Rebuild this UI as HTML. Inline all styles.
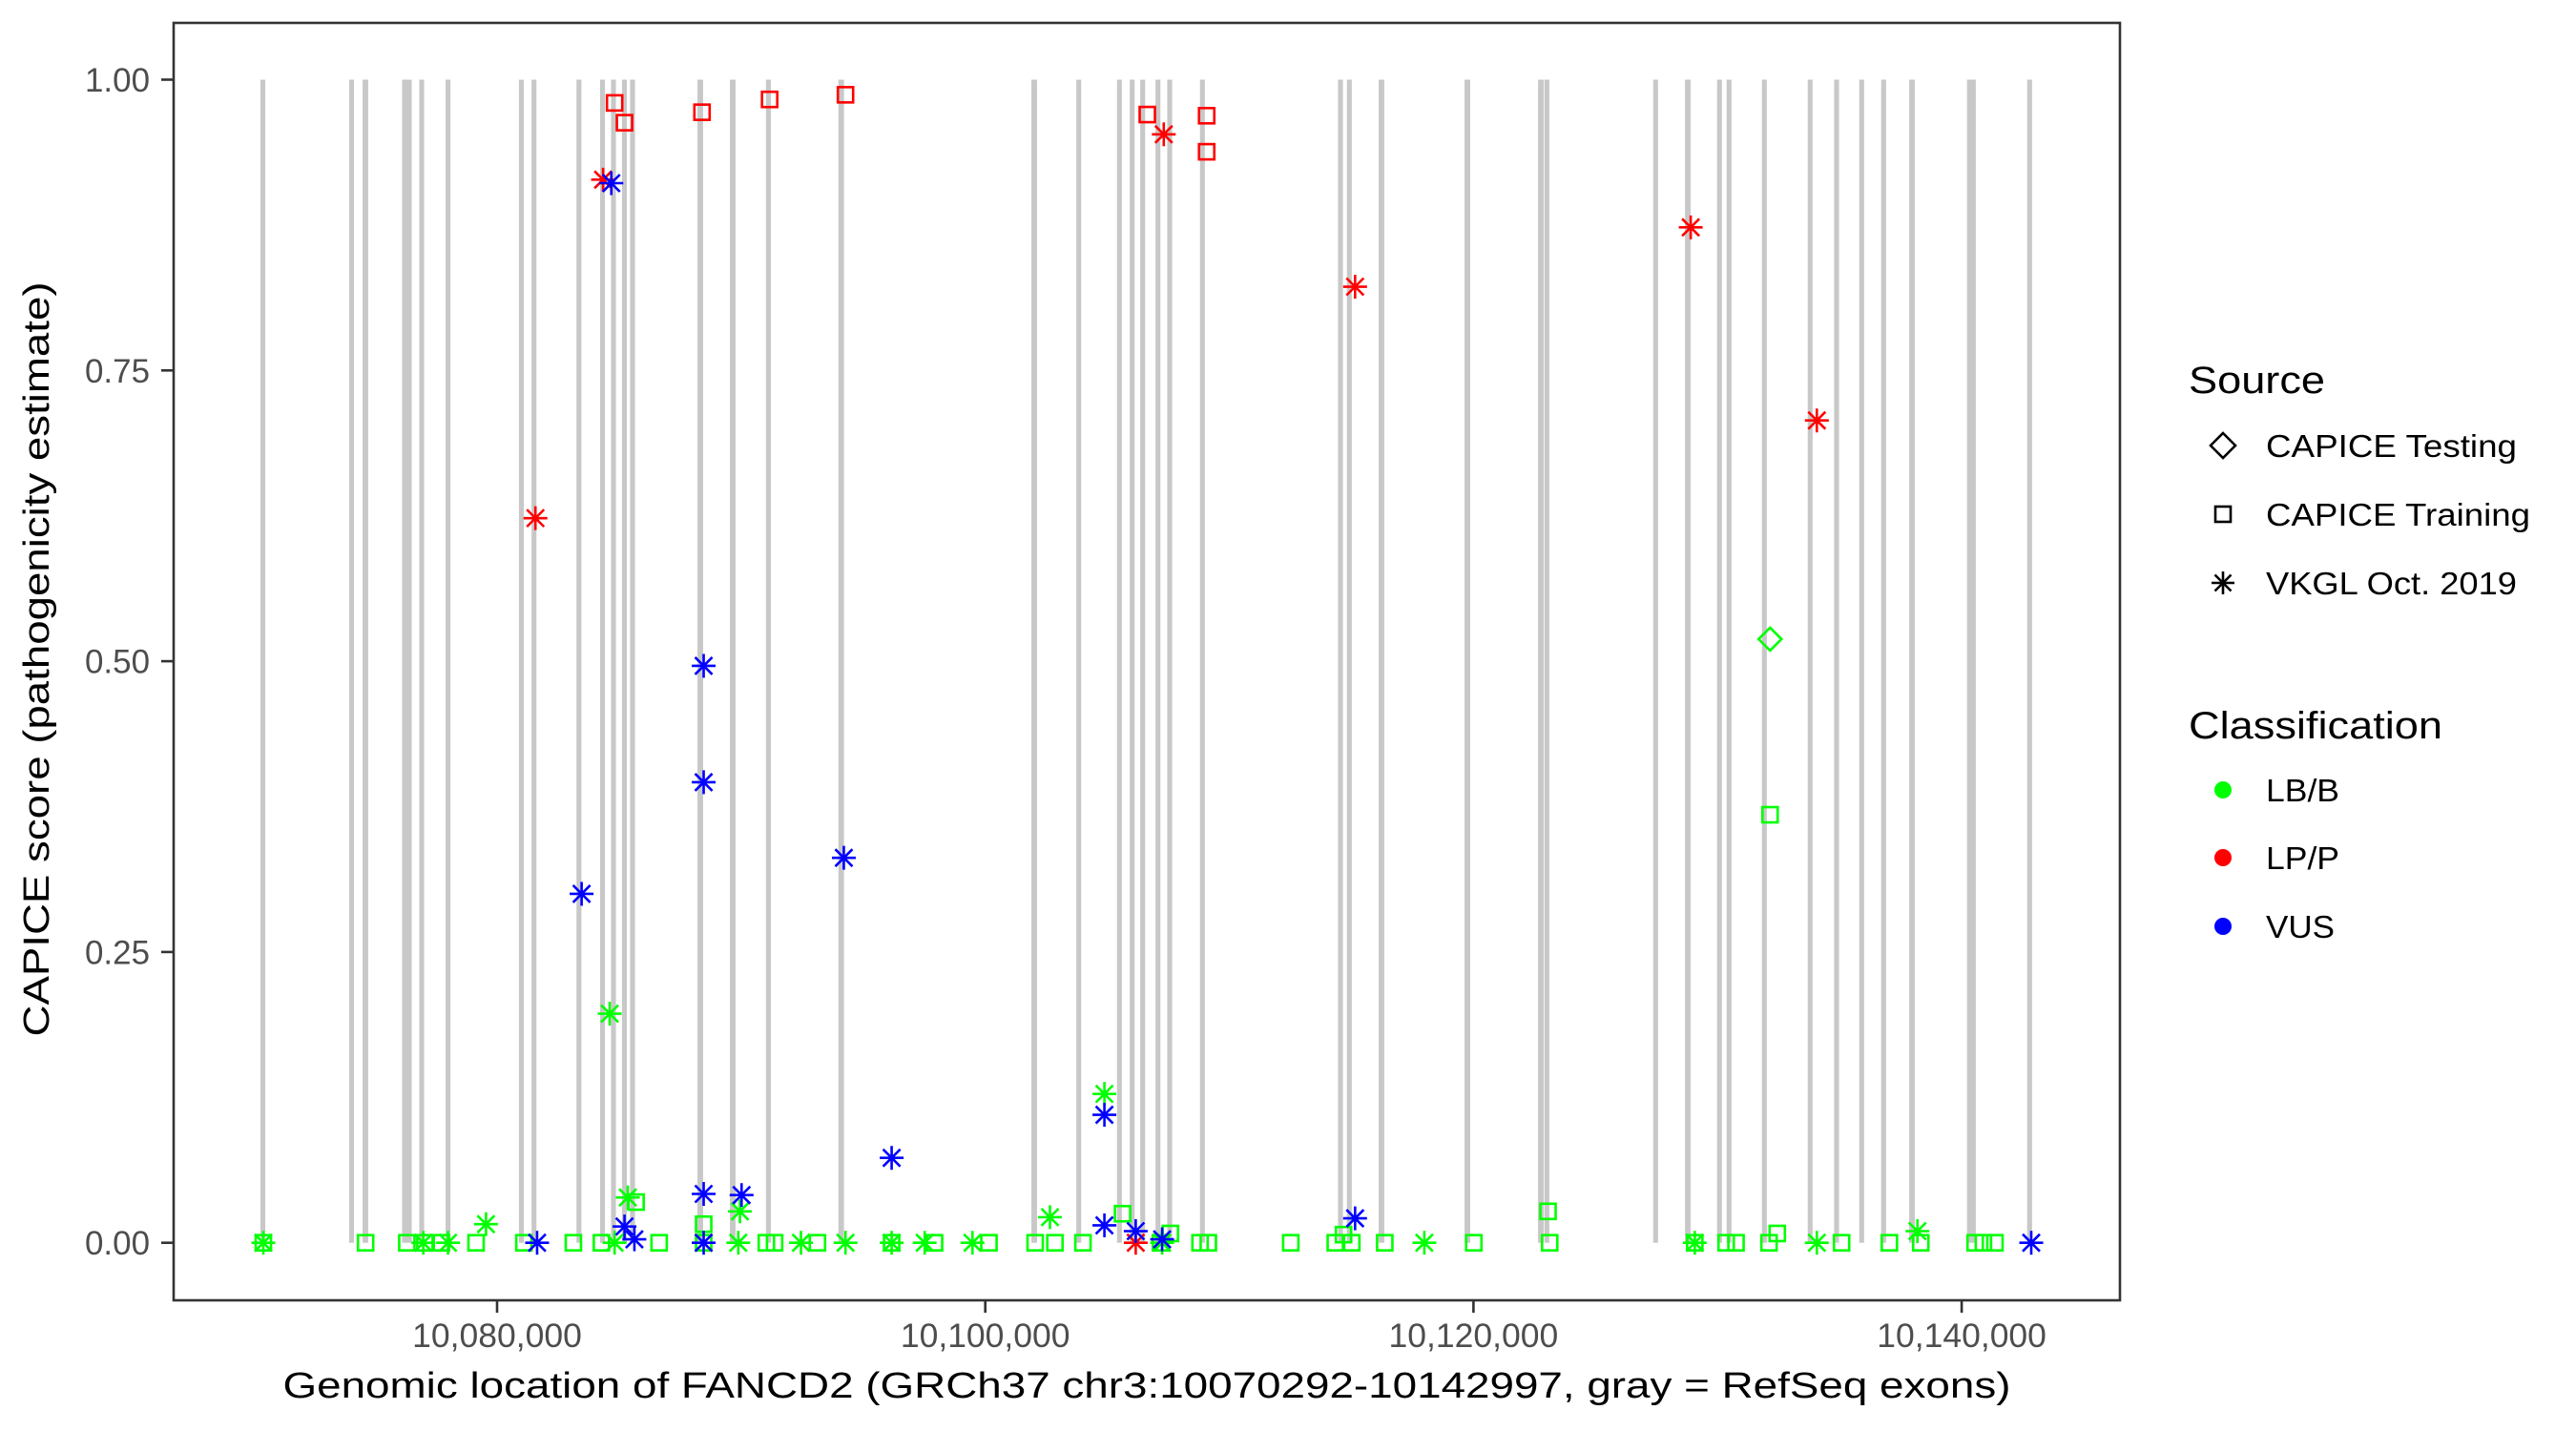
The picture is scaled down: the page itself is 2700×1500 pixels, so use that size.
<!DOCTYPE html>
<html><head><meta charset="utf-8"><style>
html,body{margin:0;padding:0;background:#fff;}
svg{display:block;font-family:"Liberation Sans",Arial,sans-serif;}
</style></head><body>
<svg id="chart" width="2700" height="1500" viewBox="0 0 2700 1500" xmlns="http://www.w3.org/2000/svg">
<rect x="0" y="0" width="2700" height="1500" fill="#fff"/>
<g id="exons"></g>
<g id="points"></g>
<rect x="182" y="24" width="2040" height="1339" fill="none" stroke="#333" stroke-width="2.6"/>
<g id="yaxis"></g>
<g id="xaxis"></g>
<text x="1202" y="1465" font-size="38" text-anchor="middle" textLength="1811" lengthAdjust="spacingAndGlyphs" fill="#000">Genomic location of FANCD2 (GRCh37 chr3:10070292-10142997, gray = RefSeq exons)</text>
<text transform="translate(51,691) rotate(-90)" x="0" y="0" font-size="38" text-anchor="middle" textLength="791" lengthAdjust="spacingAndGlyphs" fill="#000">CAPICE score (pathogenicity estimate)</text>
<g>
<text x="2294" y="412" font-size="40" textLength="143" lengthAdjust="spacingAndGlyphs">Source</text>
<polygon points="2330,454 2343,467 2330,480 2317,467" fill="none" stroke="#000" stroke-width="2.6"/>
<text x="2375" y="479" font-size="33" textLength="263" lengthAdjust="spacingAndGlyphs">CAPICE Testing</text>
<rect x="2322" y="531" width="16" height="16" fill="none" stroke="#000" stroke-width="2.6"/>
<text x="2375" y="551" font-size="33" textLength="277" lengthAdjust="spacingAndGlyphs">CAPICE Training</text>
<g stroke="#000" stroke-width="2.6">
<line x1="2330" y1="599" x2="2330" y2="623"/><line x1="2318" y1="611" x2="2342" y2="611"/>
<line x1="2321.5" y1="602.5" x2="2338.5" y2="619.5"/><line x1="2321.5" y1="619.5" x2="2338.5" y2="602.5"/></g>
<text x="2375" y="623" font-size="33" textLength="263" lengthAdjust="spacingAndGlyphs">VKGL Oct. 2019</text>
</g>
<g>
<text x="2294" y="774" font-size="40" textLength="266" lengthAdjust="spacingAndGlyphs">Classification</text>
<circle cx="2330" cy="828" r="9" fill="#00ff00"/>
<text x="2375" y="840" font-size="33" textLength="77" lengthAdjust="spacingAndGlyphs">LB/B</text>
<circle cx="2330" cy="899" r="9" fill="#ff0000"/>
<text x="2375" y="911" font-size="33" textLength="77" lengthAdjust="spacingAndGlyphs">LP/P</text>
<circle cx="2330" cy="971" r="9" fill="#0000ff"/>
<text x="2375" y="983" font-size="33" textLength="72" lengthAdjust="spacingAndGlyphs">VUS</text>
</g>
</svg>
<script>
const yTicks = [0, 0.25, 0.5, 0.75, 1.0];
const yTickLabels = ["0.00", "0.25", "0.50", "0.75", "1.00"];
const xTicks = [10080000, 10100000, 10120000, 10140000];
const xTickLabels = ["10,080,000", "10,100,000", "10,120,000", "10,140,000"];

const exonCenters = [10070405,10074039,10074606,10076209,10076404,10076912,10077991,10080997,10081513,10083354,10084319,10084768,10085218,10085550,10088325,10089654,10091116,10094098,10102005,10103830,10105496,10106019,10106449,10107075,10107555,10108896,10114552,10114915,10116232,10119750,10122760,10123006,10127462,10128779,10130080,10130471,10131917,10133793,10134876,10135904,10136803,10137964,10140399,10142783];
const exonLengths = [200,200,230,200,200,200,200,200,200,200,200,200,200,200,230,230,200,230,230,200,200,200,200,200,200,200,200,200,230,230,230,200,200,230,200,200,200,200,200,200,200,230,360,200];

const trainPos = [10084815,10085221,10088396,10091166,10094274,10106637,10109069,10109069,
 10132150,10123054,10105624,10085694,10088464,10107583,10132445,10114677,
 10070425,10074614,10076303,10077046,10077721,10079140,10081099,10083126,10084275,10086639,10088464,10091031,10091369,10093125,10096165,10097922,10100151,10102043,10102854,10104002,10107178,10108799,10109137,10112515,10114339,10115015,10116366,10120014,10123122,10129067,10130351,10130756,10132107,10135080,10137039,10138323,10140552,10140890,10141363];
const trainScore = [0.98,0.963,0.972,0.983,0.987,0.97,0.969,0.938,
 0.368,0.027,0.025,0.035,0.016,0.008,0.008,0.007,
 0,0,0,0,0,0,0,0,0,0,0,0,0,0,0,0,0,0,0,0,0,0,0,0,0,0,0,0,0,0,0,0,0,0,0,0,0,0,0];
const trainClass = ["LP/P","LP/P","LP/P","LP/P","LP/P","LP/P","LP/P","LP/P",
 "LB/B","LB/B","LB/B","LB/B","LB/B","LB/B","LB/B","LB/B",
 "LB/B","LB/B","LB/B","LB/B","LB/B","LB/B","LB/B","LB/B","LB/B","LB/B","LB/B","LB/B","LB/B","LB/B","LB/B","LB/B","LB/B","LB/B","LB/B","LB/B","LB/B","LB/B","LB/B","LB/B","LB/B","LB/B","LB/B","LB/B","LB/B","LB/B","LB/B","LB/B","LB/B","LB/B","LB/B","LB/B","LB/B","LB/B","LB/B"];

const vkglPos = [10084613,10085356,10079546,10102651,10104881,10089950,10138188,
 10070425,10076978,10077992,10084815,10089882,10092450,10094274,10096165,10097517,10099476,10107245,10117987,10129067,10134067,
 10084342,10081572,10107313,10115150,10128900,10134067,10106164,
 10084680,10083464,10088464,10088464,10094206,10096165,10104881,10104881,10106164,10107245,10115150,10088464,10090017,10085221,10085626,10081640,10088464,10142850];
const vkglScore = [0.197,0.039,0.016,0.022,0.128,0.027,0.01,
 0,0,0,0,0,0,0,0,0,0,0,0,0,0,
 0.914,0.623,0.953,0.822,0.873,0.707,0,
 0.911,0.30,0.496,0.396,0.331,0.073,0.11,0.015,0.01,0.003,0.021,0.042,0.041,0.014,0.003,0,0,0];
const vkglClass = ["LB/B","LB/B","LB/B","LB/B","LB/B","LB/B","LB/B",
 "LB/B","LB/B","LB/B","LB/B","LB/B","LB/B","LB/B","LB/B","LB/B","LB/B","LB/B","LB/B","LB/B","LB/B",
 "LP/P","LP/P","LP/P","LP/P","LP/P","LP/P","LP/P",
 "VUS","VUS","VUS","VUS","VUS","VUS","VUS","VUS","VUS","VUS","VUS","VUS","VUS","VUS","VUS","VUS","VUS","VUS"];

const testPos = [10132150];
const testScore = [0.519];
const testClass = ["LB/B"];

const NS = "http://www.w3.org/2000/svg";
const colorOf = {"LB/B":"#00ff00","LP/P":"#ff0000","VUS":"#0000ff"};
function xScale(g){ return 521 + (g - 10080000) * 0.025585; }
function yScale(v){ return 1302.7 - v * 1219.2; }
function mk(tag, attrs, parent){ const e=document.createElementNS(NS,tag); for(const k in attrs) e.setAttribute(k,attrs[k]); parent.appendChild(e); return e; }

const exG = document.getElementById("exons");
exonCenters.forEach((c,i)=>{
  const x0 = xScale(c - exonLengths[i]/2), x1 = xScale(c + exonLengths[i]/2);
  const r = mk("rect",{x:x0,y:yScale(1),width:Math.max(x1-x0,4.5),height:yScale(0)-yScale(1),fill:"#c8c8c8"},exG);
  
  
});

const yG = document.getElementById("yaxis");
yTicks.forEach((v,i)=>{
  const y = yScale(v);
  const t = mk("line",{x1:169,x2:182,y1:y,y2:y,stroke:"#333","stroke-width":2.6},yG);
  
  
  const l = mk("text",{x:157,y:y+12.5,"font-size":35,"text-anchor":"end",fill:"#4d4d4d",textLength:68,lengthAdjust:"spacingAndGlyphs"},yG);
  l.textContent = yTickLabels[i];
  
  
});
const xG = document.getElementById("xaxis");
xTicks.forEach((v,i)=>{
  const x = xScale(v);
  const t = mk("line",{x1:x,x2:x,y1:1363,y2:1376,stroke:"#333","stroke-width":2.6},xG);
  
  
  const l = mk("text",{x:x,y:1412,"font-size":35.5,"text-anchor":"middle",fill:"#4d4d4d"},xG);
  l.textContent = xTickLabels[i];
  
  
});

const pG = document.getElementById("points");
function square(x,y,c){
  const e = mk("rect",{x:x-8,y:y-8,width:16,height:16,fill:"none",stroke:c,"stroke-width":2.6},pG);
  
  
}
function star(x,y,c){
  const g = mk("g",{stroke:c,"stroke-width":2.6},pG);
  
  
  mk("line",{x1:x,y1:y-12.5,x2:x,y2:y+12.5},g);
  mk("line",{x1:x-12.5,y1:y,x2:x+12.5,y2:y},g);
  mk("line",{x1:x-9,y1:y-9,x2:x+9,y2:y+9},g);
  mk("line",{x1:x-9,y1:y+9,x2:x+9,y2:y-9},g);
}
function diamond(x,y,c){
  const e = mk("polygon",{points:`${x},${y-12} ${x+12},${y} ${x},${y+12} ${x-12},${y}`,fill:"none",stroke:c,"stroke-width":2.6},pG);
  
  
}
trainPos.forEach((p,i)=>square(xScale(p),yScale(trainScore[i]),colorOf[trainClass[i]]));
["LB/B","LP/P","VUS"].forEach(cls=>{
  vkglPos.forEach((p,i)=>{ if(vkglClass[i]===cls) star(xScale(p),yScale(vkglScore[i]),colorOf[cls]); });
});
testPos.forEach((p,i)=>diamond(xScale(p),yScale(testScore[i]),colorOf[testClass[i]]));
</script>
</body></html>
